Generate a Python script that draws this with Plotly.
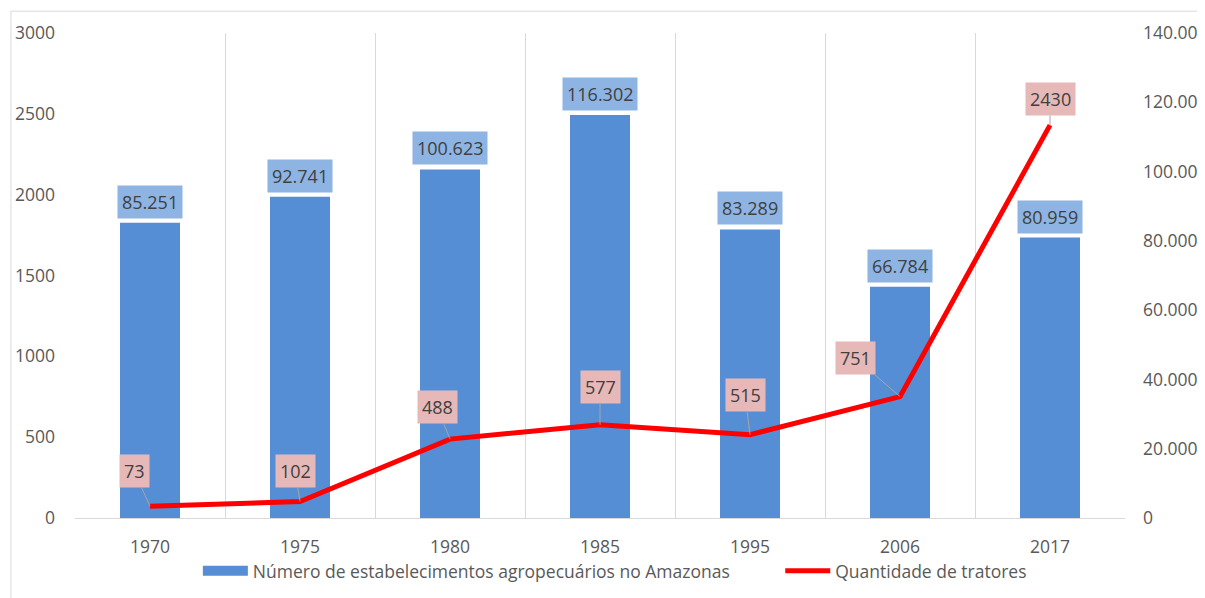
import plotly.graph_objects as go

years = ["1970", "1975", "1980", "1985", "1995", "2006", "2017"]
estabelecimentos = [85251, 92741, 100623, 116302, 83289, 66784, 80959]
tratores = [73, 102, 488, 577, 515, 751, 2430]

left_ticks = [0, 500, 1000, 1500, 2000, 2500, 3000]
right_ticks = [0, 20000, 40000, 60000, 80000, 100000, 120000, 140000]

# label offsets (pixels) for the tractor labels
lab_dx = [-16, -5, -13, 0, -5, -45, 0]
lab_dy = [-35, -31, -32, -38, -40, -39, -26]

BAR_NAME = "Número de estabelecimentos agropecuários no Amazonas"
LINE_NAME = "Quantidade de tratores"

FONT = "Open Sans"
GRAY = "#595959"
DARK = "#404040"
BLUE = "#558ED5"

def fmt(v):
    return f"{v:,}".replace(",", ".")

fig = go.Figure()
fig.add_trace(go.Bar(
    x=years, y=estabelecimentos, yaxis="y",
    name=BAR_NAME, showlegend=False, legendgroup="bar",
    marker=dict(color=BLUE, line=dict(width=0)),
    width=0.4,
))
# legend swatch for the bars (wide rectangle like the original)
fig.add_trace(go.Scatter(
    x=[None], y=[None], yaxis="y", mode="lines",
    name=BAR_NAME + "\u00a0" * 10,
    legendgroup="bar", line=dict(color=BLUE, width=11), hoverinfo="skip",
))
fig.add_trace(go.Scatter(
    x=years, y=tratores, yaxis="y2", mode="lines",
    name=LINE_NAME,
    line=dict(color="#FF0000", width=5),
))

annotations = []
for i, v in enumerate(estabelecimentos):
    annotations.append(dict(
        x=i, y=v, xref="x", yref="y", text=fmt(v), showarrow=False,
        yanchor="bottom", yshift=4, bgcolor="#8EB4E3", borderpad=4,
        font=dict(family=FONT, size=18, color=DARK),
    ))
for i, (v, dx, dy) in enumerate(zip(tratores, lab_dx, lab_dy)):
    annotations.append(dict(
        x=i, y=v, xref="x", yref="y2", text=str(v), showarrow=True,
        ax=dx, ay=dy, arrowhead=0, arrowwidth=1, arrowcolor="#A6A6A6",
        bgcolor="#E6B9B8", borderpad=4,
        font=dict(family=FONT, size=18, color=DARK),
    ))

fig.update_layout(
    width=1197, height=590,
    margin=dict(l=67, r=80, t=25, b=80),
    paper_bgcolor="white", plot_bgcolor="white",
    separators=",.",
    font=dict(family=FONT, size=17, color=GRAY),
    showlegend=True,
    legend=dict(orientation="h", xref="paper", x=0.117, xanchor="left",
                yref="container", y=0.0458, yanchor="middle",
                bgcolor="rgba(0,0,0,0)",
                font=dict(family=FONT, size=17.5, color=GRAY), traceorder="normal",
                itemwidth=45),
    xaxis=dict(type="category", range=[-0.5, 6.5], tickson="boundaries",
               showgrid=True, gridcolor="#D9D9D9", gridwidth=1,
               showline=True, linecolor="#D9D9D9", linewidth=1,
               ticks="", ticklabelstandoff=13, automargin=False,
               tickfont=dict(family=FONT, size=17.5, color=GRAY)),
    yaxis=dict(side="right", range=[0, 140000], tickvals=right_ticks,
               ticktext=[fmt(t) for t in right_ticks],
               showgrid=False, zeroline=False, showline=False, ticks="",
               ticklabelstandoff=17, automargin=False,
               tickfont=dict(family=FONT, size=17.5, color=GRAY)),
    yaxis2=dict(side="left", overlaying="y", range=[0, 3000], tickvals=left_ticks,
                showgrid=False, zeroline=False, showline=False, ticks="",
                ticklabelstandoff=19, automargin=False,
                tickfont=dict(family=FONT, size=17.5, color=GRAY)),
    annotations=annotations,
    shapes=[dict(type="rect", xref="paper", yref="paper",
                 x0=-0.061, y0=-0.4, x1=1.2, y1=1.045,
                 line=dict(color="#D9D9D9", width=1), layer="below")],
    bargap=0.6,
)

fig.write_html("out.html")
